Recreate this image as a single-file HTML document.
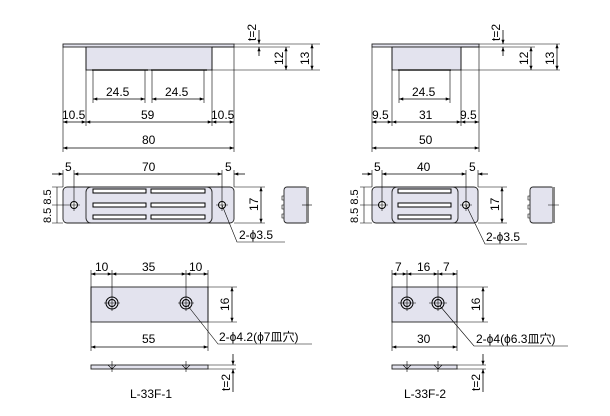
<!DOCTYPE html>
<html><head><meta charset="utf-8"><style>
html,body{margin:0;padding:0;background:#fff}
svg{display:block}
text{font-family:"Liberation Sans","Noto Sans CJK JP",sans-serif;font-size:12px;fill:#000}
.l{stroke:#000;stroke-width:0.8;fill:none}
.t{stroke:#000;stroke-width:0.6;fill:none}
.f{fill:#e3e3ee;stroke:#222;stroke-width:0.9}
</style></head><body>
<svg width="610" height="416" viewBox="0 0 610 416" xmlns="http://www.w3.org/2000/svg">
<defs>
<marker id="a" viewBox="0 0 8 6" refX="8" refY="3" markerWidth="6" markerHeight="4" orient="auto-start-reverse"><path d="M0,0L8,3L0,6z" fill="#000"/></marker>
</defs>
<g id="L">
<rect x="63" y="44" width="171" height="3" class="f"/>
<rect x="86" y="47" width="126" height="23" class="f"/>
<line x1="92" y1="70" x2="148" y2="70" stroke="#555" stroke-width="2"/>
<line x1="151" y1="70" x2="207" y2="70" stroke="#555" stroke-width="2"/>
<line x1="212" y1="70" x2="320" y2="70" class="t"/>
<line x1="234" y1="44" x2="320" y2="44" class="t"/>
<line x1="212" y1="47" x2="290" y2="47" class="t"/>
<path d="M63 47V152M234 47V152M86 47V126M212 47V126M93 70V103M145 70V103M152 70V103M204 70V103" class="t"/>
<line x1="93" y1="99" x2="145" y2="99" class="l" marker-start="url(#a)" marker-end="url(#a)"/>
<line x1="152" y1="99" x2="204" y2="99" class="l" marker-start="url(#a)" marker-end="url(#a)"/>
<text x="106" y="96">24.5</text><text x="165" y="96">24.5</text>
<line x1="63" y1="122" x2="86" y2="122" class="l" marker-start="url(#a)" marker-end="url(#a)"/>
<line x1="86" y1="122" x2="212" y2="122" class="l" marker-start="url(#a)" marker-end="url(#a)"/>
<line x1="212" y1="122" x2="234" y2="122" class="l" marker-start="url(#a)" marker-end="url(#a)"/>
<text x="62" y="119">10.5</text><text x="141" y="119">59</text><text x="211" y="119">10.5</text>
<line x1="63" y1="148" x2="234" y2="148" class="l" marker-start="url(#a)" marker-end="url(#a)"/>
<text x="142" y="144">80</text>
<line x1="286" y1="47" x2="286" y2="70" class="l" marker-start="url(#a)" marker-end="url(#a)"/>
<line x1="312" y1="44" x2="312" y2="70" class="l" marker-start="url(#a)" marker-end="url(#a)"/>
<text transform="translate(283,65) rotate(-90)">12</text>
<text transform="translate(309,65) rotate(-90)">13</text>
<line x1="259" y1="30" x2="259" y2="44" class="l" marker-end="url(#a)"/>
<line x1="259" y1="47" x2="259" y2="56" class="l" marker-start="url(#a)"/>
<text transform="translate(256,41) rotate(-90)">t=2</text>
<rect x="63" y="187" width="171" height="36" rx="4" class="f"/>
<rect x="86" y="187" width="126" height="36" rx="5" class="f"/>
<g fill="#fff" stroke="#000" stroke-width="1">
<rect x="93" y="189" width="53" height="4"/><rect x="151" y="189" width="54" height="4"/>
<rect x="93" y="203" width="53" height="4"/><rect x="151" y="203" width="54" height="4"/>
<rect x="93" y="215" width="53" height="4"/><rect x="151" y="215" width="54" height="4"/>
</g>
<circle cx="74" cy="205" r="3.5" fill="#fff" stroke="#000"/><circle cx="222" cy="205" r="3.5" fill="#fff" stroke="#000"/>
<path d="M52 205H80M74 170V211M216 205H228M222 170V211M63 170V187M234 170V187" class="t"/>
<line x1="52" y1="174" x2="63" y2="174" class="l" marker-end="url(#a)"/>
<line x1="74" y1="174" x2="222" y2="174" class="l" marker-start="url(#a)" marker-end="url(#a)"/>
<line x1="234" y1="174" x2="245" y2="174" class="l" marker-start="url(#a)"/>
<text x="65" y="171">5</text><text x="142" y="171">70</text><text x="225" y="171">5</text>
<path d="M234 187H265M234 223H265M52 187H63M52 223H63" class="t"/>
<line x1="261" y1="187" x2="261" y2="223" class="l" marker-start="url(#a)" marker-end="url(#a)"/>
<text transform="translate(258,211) rotate(-90)">17</text>
<line x1="57" y1="187" x2="57" y2="223" class="t"/>
<text transform="translate(51,223) rotate(-90)" style="font-size:11px">8.5 8.5</text>
<rect x="284" y="187" width="24" height="36" rx="3" class="f"/>
<rect x="306" y="187" width="3" height="36" fill="#888"/>
<path d="M284 196h-2v4h2M284 205h-2v4h2M284 214h-2v4h2" class="t"/>
<path d="M302 205H312" class="t"/>
<path d="M222 205L237 242H285" class="t"/>
<text x="239" y="239">2-ϕ3.5</text>
<rect x="91" y="287" width="117" height="35" class="f"/>
<circle cx="112" cy="303" r="6" fill="none" stroke="#000"/><circle cx="112" cy="303" r="3.5" fill="none" stroke="#000"/>
<circle cx="186" cy="303" r="6" fill="none" stroke="#000"/><circle cx="186" cy="303" r="3.5" fill="none" stroke="#000"/>
<path d="M104 303H120M112 270V311M178 303H194M186 270V311M91 270V351M208 270V351M208 287H237M208 322H237" class="t"/>
<line x1="91" y1="274" x2="112" y2="274" class="l" marker-start="url(#a)" marker-end="url(#a)"/>
<line x1="112" y1="274" x2="186" y2="274" class="l" marker-start="url(#a)" marker-end="url(#a)"/>
<line x1="186" y1="274" x2="208" y2="274" class="l" marker-start="url(#a)" marker-end="url(#a)"/>
<text x="95" y="271">10</text><text x="142" y="271">35</text><text x="189" y="271">10</text>
<line x1="232" y1="287" x2="232" y2="322" class="l" marker-start="url(#a)" marker-end="url(#a)"/>
<text transform="translate(229,311) rotate(-90)">16</text>
<line x1="91" y1="347" x2="208" y2="347" class="l" marker-start="url(#a)" marker-end="url(#a)"/>
<text x="142" y="343">55</text>
<path d="M188 306L218 344H312" class="t"/>
<text x="219" y="341">2-ϕ4.2(ϕ7皿穴)</text>
<rect x="91" y="365" width="117" height="4" class="f"/>
<path d="M108 365l4 4 4-4M182 365l4 4 4-4M112 361V372M186 361V372M208 365H236M208 369H236" class="t"/>
<line x1="233" y1="354" x2="233" y2="365" class="l" marker-end="url(#a)"/>
<line x1="233" y1="369" x2="233" y2="392" class="l" marker-start="url(#a)"/>
<text transform="translate(230,391) rotate(-90)">t=2</text>
<text x="130" y="398">L-33F-1</text>
</g>
<g id="R">
<rect x="372" y="44" width="107" height="3" class="f"/>
<rect x="392" y="47" width="69" height="23" class="f"/>
<line x1="398" y1="70" x2="451" y2="70" stroke="#555" stroke-width="2"/>
<line x1="461" y1="70" x2="560" y2="70" class="t"/>
<line x1="479" y1="44" x2="560" y2="44" class="t"/>
<line x1="461" y1="47" x2="535" y2="47" class="t"/>
<path d="M372 47V152M479 47V152M392 47V126M461 47V126M399 70V103M450 70V103" class="t"/>
<line x1="399" y1="99" x2="450" y2="99" class="l" marker-start="url(#a)" marker-end="url(#a)"/>
<text x="412" y="96">24.5</text>
<line x1="372" y1="122" x2="392" y2="122" class="l" marker-start="url(#a)" marker-end="url(#a)"/>
<line x1="392" y1="122" x2="461" y2="122" class="l" marker-start="url(#a)" marker-end="url(#a)"/>
<line x1="461" y1="122" x2="479" y2="122" class="l" marker-start="url(#a)" marker-end="url(#a)"/>
<text x="372" y="119">9.5</text><text x="419" y="119">31</text><text x="460" y="119">9.5</text>
<line x1="372" y1="148" x2="479" y2="148" class="l" marker-start="url(#a)" marker-end="url(#a)"/>
<text x="419" y="144">50</text>
<line x1="531" y1="47" x2="531" y2="70" class="l" marker-start="url(#a)" marker-end="url(#a)"/>
<line x1="557" y1="44" x2="557" y2="70" class="l" marker-start="url(#a)" marker-end="url(#a)"/>
<text transform="translate(528,65) rotate(-90)">12</text>
<text transform="translate(554,65) rotate(-90)">13</text>
<line x1="503" y1="30" x2="503" y2="44" class="l" marker-end="url(#a)"/>
<line x1="503" y1="47" x2="503" y2="56" class="l" marker-start="url(#a)"/>
<text transform="translate(500,41) rotate(-90)">t=2</text>
<rect x="372" y="187" width="106" height="36" rx="4" class="f"/>
<rect x="392" y="187" width="66" height="36" rx="5" class="f"/>
<g fill="#fff" stroke="#000" stroke-width="1">
<rect x="398" y="189" width="53" height="4"/><rect x="398" y="203" width="53" height="4"/><rect x="398" y="215" width="53" height="4"/>
</g>
<circle cx="382" cy="205" r="3.5" fill="#fff" stroke="#000"/><circle cx="466" cy="205" r="3.5" fill="#fff" stroke="#000"/>
<path d="M360 205H388M382 170V211M460 205H472M466 170V211M372 170V187M478 170V187" class="t"/>
<line x1="362" y1="174" x2="372" y2="174" class="l" marker-end="url(#a)"/>
<line x1="382" y1="174" x2="466" y2="174" class="l" marker-start="url(#a)" marker-end="url(#a)"/>
<line x1="478" y1="174" x2="488" y2="174" class="l" marker-start="url(#a)"/>
<text x="374" y="171">5</text><text x="417" y="171">40</text><text x="469" y="171">5</text>
<path d="M478 187H507M478 223H507M360 187H372M360 223H372" class="t"/>
<line x1="502" y1="187" x2="502" y2="223" class="l" marker-start="url(#a)" marker-end="url(#a)"/>
<text transform="translate(499,211) rotate(-90)">17</text>
<line x1="364" y1="187" x2="364" y2="223" class="t"/>
<text transform="translate(358,223) rotate(-90)" style="font-size:11px">8.5 8.5</text>
<rect x="530" y="187" width="24" height="36" rx="3" class="f"/>
<rect x="552" y="187" width="3" height="36" fill="#888"/>
<path d="M530 196h-2v4h2M530 205h-2v4h2M530 214h-2v4h2M548 205H559" class="t"/>
<path d="M466 205L485 244H527" class="t"/>
<text x="486" y="241">2-ϕ3.5</text>
<rect x="392" y="287" width="65" height="35" class="f"/>
<circle cx="407" cy="303" r="6" fill="none" stroke="#000"/><circle cx="407" cy="303" r="3.5" fill="none" stroke="#000"/>
<circle cx="438" cy="303" r="6" fill="none" stroke="#000"/><circle cx="438" cy="303" r="3.5" fill="none" stroke="#000"/>
<path d="M398 303H416M407 270V311M429 303H447M438 270V311M392 270V351M457 270V351M457 287H488M457 322H488" class="t"/>
<line x1="392" y1="274" x2="407" y2="274" class="l" marker-start="url(#a)" marker-end="url(#a)"/>
<line x1="407" y1="274" x2="438" y2="274" class="l" marker-start="url(#a)" marker-end="url(#a)"/>
<line x1="438" y1="274" x2="457" y2="274" class="l" marker-start="url(#a)" marker-end="url(#a)"/>
<text x="395" y="271">7</text><text x="417" y="271">16</text><text x="443" y="271">7</text>
<line x1="483" y1="287" x2="483" y2="322" class="l" marker-start="url(#a)" marker-end="url(#a)"/>
<text transform="translate(480,311) rotate(-90)">16</text>
<line x1="392" y1="347" x2="457" y2="347" class="l" marker-start="url(#a)" marker-end="url(#a)"/>
<text x="417" y="343">30</text>
<path d="M440 306L474 346H568" class="t"/>
<text x="476" y="343">2-ϕ4(ϕ6.3皿穴)</text>
<rect x="392" y="365" width="65" height="4" class="f"/>
<path d="M403 365l4 4 4-4M434 365l4 4 4-4M407 361V372M438 361V372M457 365H486M457 369H486" class="t"/>
<line x1="483" y1="354" x2="483" y2="365" class="l" marker-end="url(#a)"/>
<line x1="483" y1="369" x2="483" y2="392" class="l" marker-start="url(#a)"/>
<text transform="translate(480,391) rotate(-90)">t=2</text>
<text x="404" y="398">L-33F-2</text>
</g>
</svg>
</body></html>
